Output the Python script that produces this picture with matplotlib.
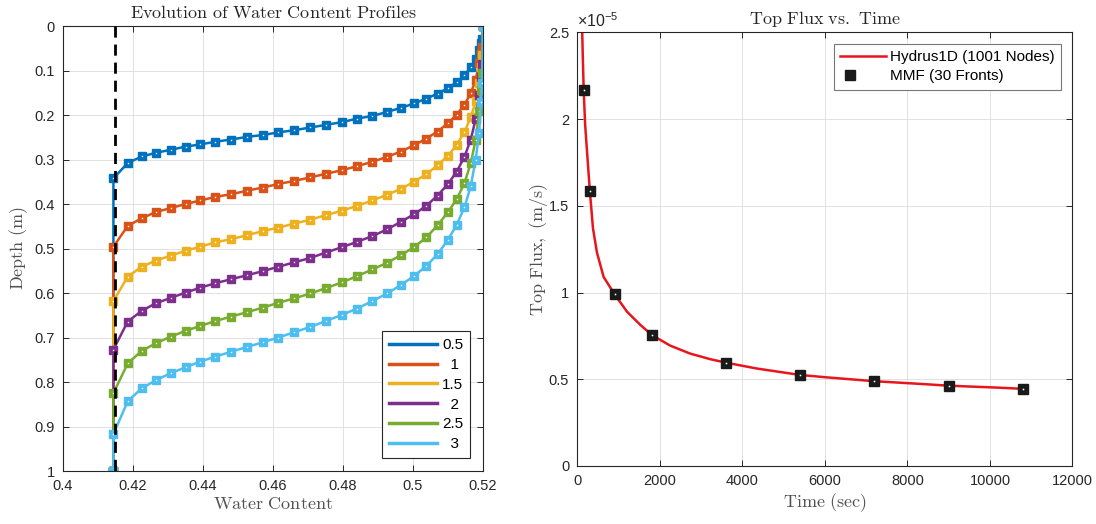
import matplotlib
matplotlib.use("Agg")
import matplotlib.pyplot as plt
from matplotlib.lines import Line2D
from matplotlib.legend_handler import HandlerTuple

plt.rcParams['font.family'] = ['Liberation Sans', 'DejaVu Sans']
plt.rcParams['mathtext.fontset'] = 'cm'
plt.rcParams['mathtext.rm'] = 'Liberation Sans'

# ---- left panel data: fronts at fixed water content, depth per time (h)
theta = [0.4144, 0.4185, 0.4225, 0.4265, 0.4308, 0.4350, 0.4392, 0.4435,
         0.4480, 0.4526, 0.4570, 0.4615, 0.4661, 0.4707, 0.4751, 0.4797,
         0.4840, 0.4884, 0.4926, 0.4965, 0.5003, 0.5038, 0.5070, 0.5099,
         0.5125, 0.5147, 0.5165, 0.5179, 0.5189, 0.5194, 0.5198, 0.52]
theta_init = 0.4149
bottom_depth = 1.0

d05 = [0.342, 0.308, 0.293, 0.285, 0.278, 0.271, 0.266, 0.260, 0.255, 0.249,
       0.245, 0.239, 0.234, 0.228, 0.222, 0.216, 0.208, 0.202, 0.193, 0.184,
       0.174, 0.163, 0.152, 0.140, 0.126, 0.111, 0.093, 0.075, 0.053, 0.039,
       0.028, 0.0]
d1 = [0.496, 0.449, 0.432, 0.418, 0.409, 0.400, 0.392, 0.384, 0.378, 0.370,
      0.363, 0.355, 0.348, 0.340, 0.332, 0.324, 0.315, 0.305, 0.294, 0.282,
      0.268, 0.253, 0.237, 0.219, 0.199, 0.177, 0.151, 0.121, 0.084, 0.061,
      0.046, 0.0]
d15 = [0.618, 0.563, 0.541, 0.527, 0.516, 0.505, 0.496, 0.486, 0.479, 0.470,
       0.461, 0.453, 0.444, 0.435, 0.425, 0.415, 0.404, 0.392, 0.379, 0.366,
       0.350, 0.333, 0.313, 0.292, 0.267, 0.238, 0.205, 0.169, 0.129, 0.091,
       0.065, 0.0]
d2 = [0.727, 0.664, 0.640, 0.623, 0.611, 0.599, 0.588, 0.578, 0.569, 0.560,
      0.551, 0.541, 0.531, 0.521, 0.509, 0.497, 0.485, 0.472, 0.457, 0.440,
      0.423, 0.404, 0.381, 0.356, 0.327, 0.294, 0.255, 0.209, 0.155, 0.114,
      0.086, 0.0]
d25 = [0.825, 0.758, 0.730, 0.713, 0.698, 0.685, 0.674, 0.663, 0.653, 0.643,
       0.633, 0.622, 0.612, 0.601, 0.589, 0.576, 0.562, 0.547, 0.532, 0.515,
       0.497, 0.475, 0.448, 0.419, 0.389, 0.353, 0.308, 0.256, 0.191, 0.144,
       0.106, 0.0]
d3 = [0.917, 0.843, 0.814, 0.796, 0.780, 0.767, 0.754, 0.743, 0.732, 0.721,
      0.711, 0.700, 0.688, 0.676, 0.663, 0.649, 0.635, 0.618, 0.601, 0.582,
      0.562, 0.539, 0.513, 0.481, 0.447, 0.407, 0.360, 0.300, 0.240, 0.170,
      0.129, 0.0]

profiles = [d05, d1, d15, d2, d25, d3]
profile_labels = ['0.5', '  1', '1.5', '  2', '2.5', '  3']
colors = ['#0072BD', '#D95319', '#EDB120', '#7E2F8E', '#77AC30', '#4DBEEE']

# ---- right panel data (flux in 1e-5 m/s)
t_hydrus = [114, 130, 150, 186, 243, 300, 376, 473, 634, 900, 1200, 1523,
            1800, 2250, 2735, 3219, 3600, 4350, 5400, 6000, 6624, 7200,
            8413, 9000, 10190, 10800]
q_hydrus = [2.506, 2.353, 2.17, 1.967, 1.775, 1.585, 1.37, 1.23, 1.09,
            0.99, 0.89, 0.814, 0.756, 0.694, 0.648, 0.616, 0.596, 0.562,
            0.525, 0.512, 0.500, 0.489, 0.472, 0.463, 0.452, 0.445]
t_mmf = [150, 300, 900, 1800, 3600, 5400, 7200, 9000, 10800]
q_mmf = [2.17, 1.585, 0.99, 0.755, 0.595, 0.526, 0.488, 0.461, 0.443]

dark = '#262626'
labc = '#505050'

fig = plt.figure(figsize=(10.96, 5.24), dpi=100)
ax1 = fig.add_axes([0.0575, 0.1011, 0.3832, 0.8492])
ax2 = fig.add_axes([0.5269, 0.1107, 0.4516, 0.8273])


def style(ax):
    ax.grid(True, color='#dcdcdc', lw=0.6)
    ax.set_axisbelow(True)
    ax.tick_params(direction='in', length=4, width=0.7, top=True, right=True,
                   colors=dark, labelsize=10.5, pad=6)
    for s in ax.spines.values():
        s.set_color(dark)
        s.set_linewidth(0.8)


# left plot
for d, c, lab in zip(profiles, colors, profile_labels):
    xs = [theta[0]] + theta
    ys = [bottom_depth] + d
    ax1.plot(xs, ys, '-', color=c, lw=1.8, label=lab)
    ax1.plot(xs, ys, 's', color=c, ms=5.5, mec=c)
    ax1.plot(xs, ys, 's', color='white', ms=0.7, mec='white', mew=0.3)
ax1.plot([theta_init, theta_init], [0, bottom_depth], '--', color='black',
         lw=2, dashes=(4, 2.5), zorder=5)

ax1.set_xlim(0.4, 0.52)
ax1.set_ylim(1, 0)
ax1.set_xticks([0.4, 0.42, 0.44, 0.46, 0.48, 0.5, 0.52])
ax1.set_xticklabels(['0.4', '0.42', '0.44', '0.46', '0.48', '0.5', '0.52'])
ax1.set_yticks([0, 0.1, 0.2, 0.3, 0.4, 0.5, 0.6, 0.7, 0.8, 0.9, 1])
ax1.set_yticklabels(['0', '0.1', '0.2', '0.3', '0.4', '0.5', '0.6', '0.7',
                     '0.8', '0.9', '1'])
style(ax1)
ax1.set_title(r'$\mathrm{Evolution\ of\ Water\ Content\ Profiles}$',
              fontsize=13, color=dark, pad=6)
ax1.set_xlabel(r'$\mathrm{Water\ Content}$', fontsize=13, color=labc,
               labelpad=2)
ax1.set_ylabel(r'$\mathrm{Depth\ (m)}$', fontsize=13, color=labc,
               labelpad=3)

handles = [Line2D([], [], color=c, lw=2.5) for c in colors]
leg1 = ax1.legend(handles, profile_labels, loc='lower right', fontsize=11,
                  handlelength=3.2, labelspacing=0.38, borderaxespad=0.85,
                  fancybox=False, edgecolor=dark, framealpha=1,
                  handletextpad=0.3, borderpad=0.45)
leg1.get_frame().set_linewidth(0.8)

# right plot
ln, = ax2.plot(t_hydrus, q_hydrus, '-', color='#e8161c', lw=1.8)
mk, = ax2.plot(t_mmf, q_mmf, 's', color='#1a1a1a', ms=6.5, mec='#1a1a1a')
dot, = ax2.plot(t_mmf, q_mmf, 's', color='white', ms=0.8, mec='white',
                mew=0.3)
ax2.set_xlim(0, 12000)
ax2.set_ylim(0, 2.5)
ax2.set_xticks(range(0, 12001, 2000))
ax2.set_yticks([0, 0.5, 1, 1.5, 2, 2.5])
ax2.set_yticklabels(['0', '0.5', '1', '1.5', '2', '2.5'])
style(ax2)
ax2.set_title(r'$\mathrm{Top\ Flux\ vs.\ Time}$', fontsize=13, color=dark,
              pad=6)
ax2.set_xlabel(r'$\mathrm{Time\ (sec)}$', fontsize=13, color=labc,
               labelpad=2)
ax2.set_ylabel(r'$\mathrm{Top\ Flux,\ (m/s)}$', fontsize=13, color=labc,
               labelpad=-1)
ax2.text(0.0, 1.006, r'$\times10^{-5}$', transform=ax2.transAxes,
         ha='left', va='bottom', fontsize=11.5, color=dark,
         math_fontfamily='custom')

leg2 = ax2.legend([ln, (mk, dot)], ['Hydrus1D (1001 Nodes)', 'MMF (30 Fronts)'],
                  handler_map={tuple: HandlerTuple(ndivide=None)},
                  loc='upper right', fontsize=11, handlelength=3.0,
                  fancybox=False, edgecolor='#777777', framealpha=1,
                  borderaxespad=0.75, handletextpad=0.3, labelspacing=0.35)
leg2.get_frame().set_linewidth(0.8)

fig.savefig('out.png', dpi=100)
